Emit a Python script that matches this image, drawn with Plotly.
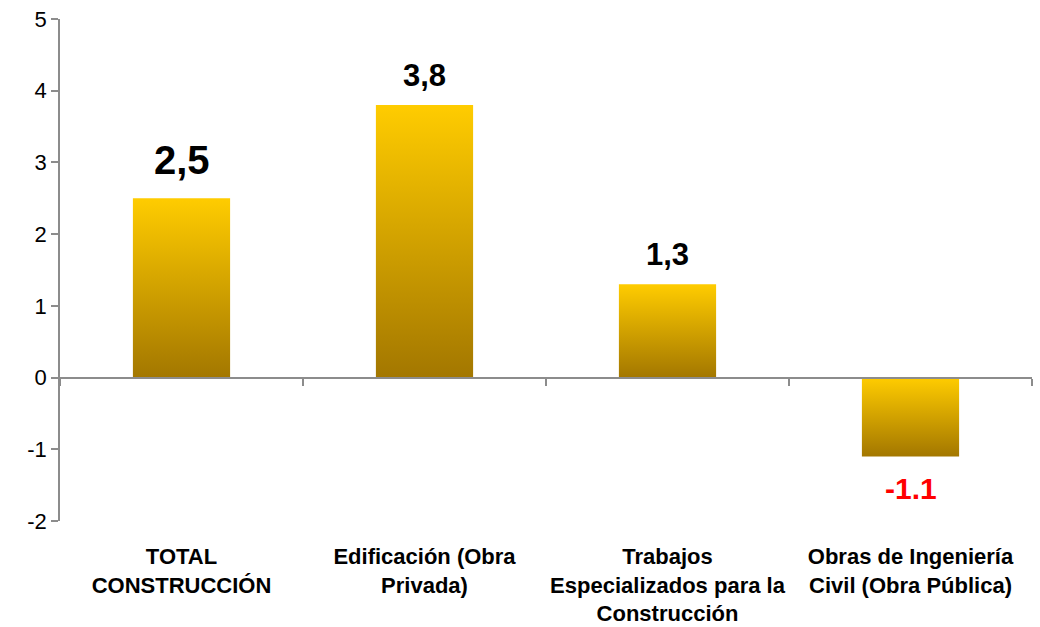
import plotly.graph_objects as go

categories = ["TOTAL<br>CONSTRUCCIÓN", "Edificación (Obra<br>Privada)",
              "Trabajos<br>Especializados para la<br>Construcción",
              "Obras de Ingeniería<br>Civil (Obra Pública)"]
values = [2.5, 3.8, 1.3, -1.1]
value_labels = ["2,5", "3,8", "1,3", "-1.1"]
label_colors = ["#000000", "#000000", "#000000", "#FF0000"]
label_sizes = [40, 31, 31, 30]
y_ticks = [5, 4, 3, 2, 1, 0, -1, -2]
y_tick_text = ["5", "4", "3", "2", "1", "0", "-1", "-2"]

BAR_W = 0.40
FONT = "Liberation Sans, Arial, sans-serif"
AXIS_GRAY = "#8C8C8C"

fig = go.Figure()
for i, v in enumerate(values):
    x0, x1 = i - BAR_W / 2, i + BAR_W / 2
    fig.add_trace(go.Scatter(
        x=[x0, x1, x1, x0, x0], y=[0, 0, v, v, 0],
        mode="lines", line=dict(width=0), fill="toself",
        fillgradient=dict(type="vertical",
                          colorscale=[[0, "#A37700"], [1, "#FFCC00"]]),
        hoverinfo="skip", showlegend=False, xaxis="x"))
    fig.add_annotation(
        x=i, y=v, xref="x", yref="y", text=f"<b>{value_labels[i]}</b>",
        showarrow=False, yanchor="bottom" if v >= 0 else "top",
        yshift=(14 if label_sizes[i] > 35 else 10) if v >= 0 else -14,
        font=dict(family=FONT, size=label_sizes[i], color=label_colors[i]))

# invisible trace to keep the zero-line axis alive
fig.add_trace(go.Scatter(x=[0], y=[0], xaxis="x2", mode="markers",
                         marker=dict(opacity=0), hoverinfo="skip",
                         showlegend=False))

fig.update_layout(
    width=1040, height=627,
    margin=dict(l=60, r=8, t=19, b=106),
    paper_bgcolor="white", plot_bgcolor="white",
    xaxis=dict(range=[-0.5, 3.5], tickvals=list(range(len(categories))),
               ticktext=categories, showline=False, ticks="", showgrid=False,
               zeroline=False, ticklabelstandoff=20, automargin=False,
               tickfont=dict(family=FONT, size=22, color="#000", weight="bold")),
    xaxis2=dict(range=[-0.5, 3.5], overlaying="x", anchor="free",
                position=(0 - min(y_ticks)) / (max(y_ticks) - min(y_ticks)),
                tickvals=[k - 0.5 for k in range(len(categories) + 1)],
                showticklabels=False, ticks="outside", ticklen=7,
                tickcolor=AXIS_GRAY, tickwidth=1.5, automargin=False,
                showline=True, linecolor=AXIS_GRAY, linewidth=2,
                showgrid=False, zeroline=False),
    yaxis=dict(range=[min(y_ticks), max(y_ticks)], tickvals=y_ticks,
               ticktext=y_tick_text, automargin=False,
               ticks="outside", ticklen=7, tickcolor=AXIS_GRAY, tickwidth=1.5,
               showline=True, linecolor=AXIS_GRAY, linewidth=1.5,
               showgrid=False, zeroline=False,
               tickfont=dict(family=FONT, size=22, color="#000")),
)

fig.write_html("out.html", config={"displayModeBar": False},
               post_script="document.body.style.margin='0';")
